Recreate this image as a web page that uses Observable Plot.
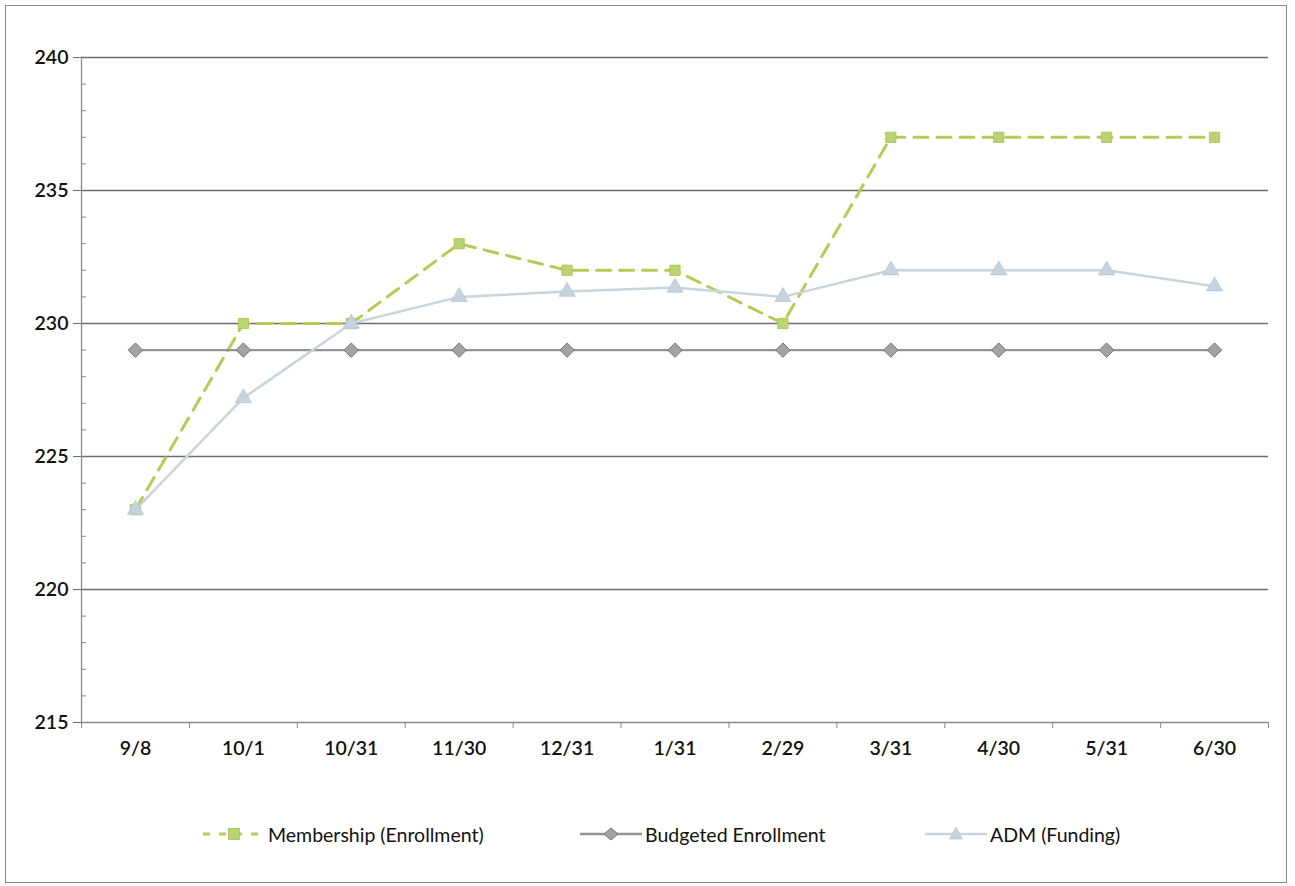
<!DOCTYPE html>
<html>
<head>
<meta charset="utf-8">
<script src="https://cdn.jsdelivr.net/npm/d3@7"></script>
<script src="https://cdn.jsdelivr.net/npm/@observablehq/plot@0.6"></script>
<style>
  html, body { margin: 0; padding: 0; background: #fff; }
  #wrap { position: relative; width: 1295px; height: 886px; overflow: hidden; font-family: Lato, "Open Sans", sans-serif; }
  #border { position: absolute; left: 5px; top: 5px; width: 1282px; height: 878px; border: 1px solid #8a8a8a; box-sizing: border-box; }
  #chart { position: absolute; left: 0; top: 0; }
  #legend { position: absolute; top: 820px; left: 0; width: 1295px; height: 30px; }
  .item { position: absolute; top: 0; display: flex; align-items: center; height: 28px; font-size: 19.5px; color: #111; }
  .item svg { margin-right: 3px; }
</style>
</head>
<body>
<div id="wrap">
  <div id="border"></div>
  <div id="chart"></div>
  <div id="legend"></div>
</div>
<script>
const categories = ["9/8", "10/1", "10/31", "11/30", "12/31", "1/31", "2/29", "3/31", "4/30", "5/31", "6/30"];
const membership = [223, 230, 230, 233, 232, 232, 230, 237, 237, 237, 237];
const budgeted = [229, 229, 229, 229, 229, 229, 229, 229, 229, 229, 229];
const adm = [223, 227.2, 230, 231, 231.2, 231.35, 231, 232, 232, 232, 231.4];
const yMajorTicks = [215, 220, 225, 230, 235, 240];
const yGridTicks = [220, 225, 230, 235, 240];
const seriesNames = ["Membership (Enrollment)", "Budgeted Enrollment", "ADM (Funding)"];

const idx = categories.map((_, i) => i);
const yMinorTicks = d3.range(215, 241).filter(v => v % 5 !== 0);
const boundaries = d3.range(-0.5, categories.length, 1);

const rows = (vals) => vals.map((v, i) => ({i, v}));
const memRows = rows(membership);
const budRows = rows(budgeted);
const admRows = rows(adm);

const cMem = "#b3cc55", cMemFill = "#bcd374";
const cBud = "#959595", cBudFill = "#a3a3a3", cBudStroke = "#767676";
const cAdm = "#c9d4dd", cAdmFill = "#c6d3dd";

const chart = Plot.plot({
  width: 1295,
  height: 780,
  marginLeft: 81,
  marginRight: 27,
  marginTop: 57,
  marginBottom: 58,
  style: {fontFamily: "Lato, 'Open Sans', sans-serif", fontSize: "19.5px", color: "#111", background: "transparent"},
  x: {domain: [-0.5, categories.length - 0.5]},
  y: {domain: [215, 240]},
  marks: [
    Plot.ruleY(yGridTicks, {stroke: "#6e6e6e", strokeWidth: 1.3}),
    Plot.ruleY([215], {stroke: "#8c8c8c", strokeWidth: 1.3}),
    Plot.frame({anchor: "left", stroke: "#8c8c8c", strokeWidth: 1.3}),
    Plot.axisY({ticks: yMajorTicks, tickSize: 8, tickPadding: 5, stroke: "#6e6e6e", label: null, fontWeight: 600}),
    Plot.axisY({ticks: yMinorTicks, tickSize: -5, text: null, stroke: "#8c8c8c", label: null}),
    Plot.axisX({ticks: boundaries, tickSize: 6, text: null, stroke: "#8c8c8c", label: null}),
    Plot.axisX({ticks: idx, tickSize: 0, tickPadding: 19, tickFormat: i => categories[i], label: null, fontWeight: 600}),
    // Membership
    Plot.line(memRows, {x: "i", y: "v", stroke: cMem, strokeWidth: 3, strokeDasharray: "14,9"}),
    Plot.dot(memRows, {x: "i", y: "v", symbol: "square", r: 5.8, fill: cMemFill, stroke: "#a9c24f", strokeWidth: 0.8}),
    // Budgeted
    Plot.line(budRows, {x: "i", y: "v", stroke: cBud, strokeWidth: 2.4}),
    Plot.dot(budRows, {x: "i", y: "v", symbol: "diamond2", r: 6.5, fill: cBudFill, stroke: cBudStroke, strokeWidth: 1}),
    // ADM
    Plot.line(admRows, {x: "i", y: "v", stroke: cAdm, strokeWidth: 2.5}),
    Plot.dot(admRows, {x: "i", y: "v", symbol: "triangle", r: 6, fill: cAdmFill, stroke: "#bac8d3", strokeWidth: 0.8})
  ]
});
document.getElementById("chart").appendChild(chart);

// Legend
const legend = document.getElementById("legend");
const legendSpecs = [
  {left: 203, name: seriesNames[0], stroke: cMem, dash: "7,9", width: 3, sym: "square", fill: cMemFill},
  {left: 580, name: seriesNames[1], stroke: cBud, dash: null, width: 2.4, sym: "diamond", fill: cBudFill},
  {left: 925, name: seriesNames[2], stroke: cAdm, dash: null, width: 2.5, sym: "triangle", fill: cAdmFill}
];
for (const s of legendSpecs) {
  const item = document.createElement("div");
  item.className = "item";
  item.style.left = s.left + "px";
  const W = 62, H = 28, cx = W / 2, cy = H / 2;
  let marker = "";
  if (s.sym === "square") marker = `<rect x="${cx-5.5}" y="${cy-5.5}" width="11" height="11" fill="${s.fill}" stroke="#a9c24f" stroke-width="0.8"/>`;
  if (s.sym === "diamond") marker = `<path d="M${cx},${cy-6} L${cx+7},${cy} L${cx},${cy+6} L${cx-7},${cy} Z" fill="${s.fill}" stroke="${cBudStroke}" stroke-width="1"/>`;
  if (s.sym === "triangle") marker = `<path d="M${cx},${cy-7} L${cx+6.5},${cy+5} L${cx-6.5},${cy+5} Z" fill="${s.fill}" stroke="#bac8d3" stroke-width="0.8"/>`;
  item.innerHTML = `<svg width="${W}" height="${H}"><line x1="0" y1="${cy}" x2="${W}" y2="${cy}" stroke="${s.stroke}" stroke-width="${s.width}" ${s.dash ? `stroke-dasharray="${s.dash}"` : ""}/>${marker}</svg><span>${s.name}</span>`;
  legend.appendChild(item);
}
</script>
</body>
</html>
